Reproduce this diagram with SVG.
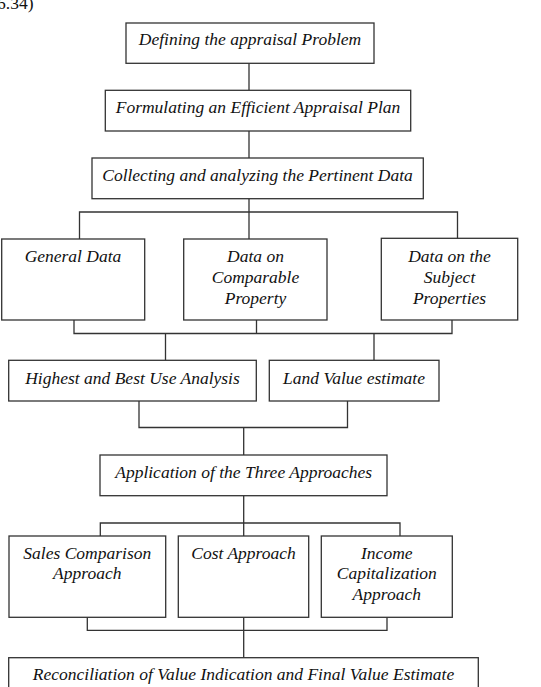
<svg xmlns="http://www.w3.org/2000/svg" width="541" height="687" viewBox="0 0 541 687">
<style>
rect{fill:#fff;stroke:#333;stroke-width:1.3}
text{font-family:"Liberation Serif","Times New Roman",serif;font-style:italic;font-size:17.5px;fill:#111;text-anchor:middle}
.c{fill:none;stroke:#333;stroke-width:1.3}
</style>
<rect x="0" y="0" width="541" height="687" style="stroke:none"/>
<text x="-3" y="9" style="font-style:normal;text-anchor:start">6.34)</text>
<g id="connectors">
<path class="c" d="M249 63V90M249 131V158M249 199V212M79.5 239V212H457.5V239M249 212V239"/>
<path class="c" d="M74 320V333.5H452V320M256.5 320V333.5M165.5 333.5V360.5M374 333.5V360.5"/>
<path class="c" d="M139 401V427.5H347.5V401M243.7 427.5V455"/>
<path class="c" d="M243.7 495.7V523M100.3 536V523H400V536M243.7 523V536"/>
<path class="c" d="M87.3 617.3V630.3H387V617.3M243.7 617.3V657.7"/>
</g>
<g id="n1"><rect x="126" y="23" width="248" height="40.3"/><text x="250" y="45">Defining the appraisal Problem</text></g>
<g id="n2"><rect x="105.3" y="90.3" width="305.4" height="40.7"/><text x="258" y="113">Formulating an Efficient Appraisal Plan</text></g>
<g id="n3"><rect x="92" y="158" width="331.3" height="40.7"/><text x="257.5" y="181">Collecting and analyzing the Pertinent Data</text></g>
<g id="n4"><rect x="1.7" y="239" width="143" height="81"/><text x="73" y="262">General Data</text></g>
<g id="n5"><rect x="183.7" y="239" width="143.3" height="81"/><text x="255.5" y="262">Data on</text><text x="255.5" y="283">Comparable</text><text x="255.5" y="304">Property</text></g>
<g id="n6"><rect x="381.3" y="238.3" width="136.4" height="81.7"/><text x="449.5" y="262">Data on the</text><text x="449.5" y="283">Subject</text><text x="449.5" y="304">Properties</text></g>
<g id="n7"><rect x="8.7" y="360.3" width="247.6" height="40.7"/><text x="132.5" y="383.5">Highest and Best Use Analysis</text></g>
<g id="n8"><rect x="269.3" y="360.3" width="169.7" height="40.7"/><text x="354" y="383.5">Land Value estimate</text></g>
<g id="n9"><rect x="100" y="455" width="287" height="40.7"/><text x="243.7" y="477.5">Application of the Three Approaches</text></g>
<g id="n10"><rect x="9" y="536" width="156.7" height="81.3"/><text x="87.3" y="558.5">Sales Comparison</text><text x="87.3" y="579">Approach</text></g>
<g id="n11"><rect x="178.3" y="536" width="130.4" height="81.3"/><text x="243.5" y="558.5">Cost Approach</text></g>
<g id="n12"><rect x="321.3" y="536" width="131" height="81.3"/><text x="386.8" y="558.5">Income</text><text x="386.8" y="579">Capitalization</text><text x="386.8" y="600">Approach</text></g>
<g id="n13"><rect x="8.7" y="657.7" width="469.6" height="40"/><text x="243.5" y="680">Reconciliation of Value Indication and Final Value Estimate</text></g>
</svg>
